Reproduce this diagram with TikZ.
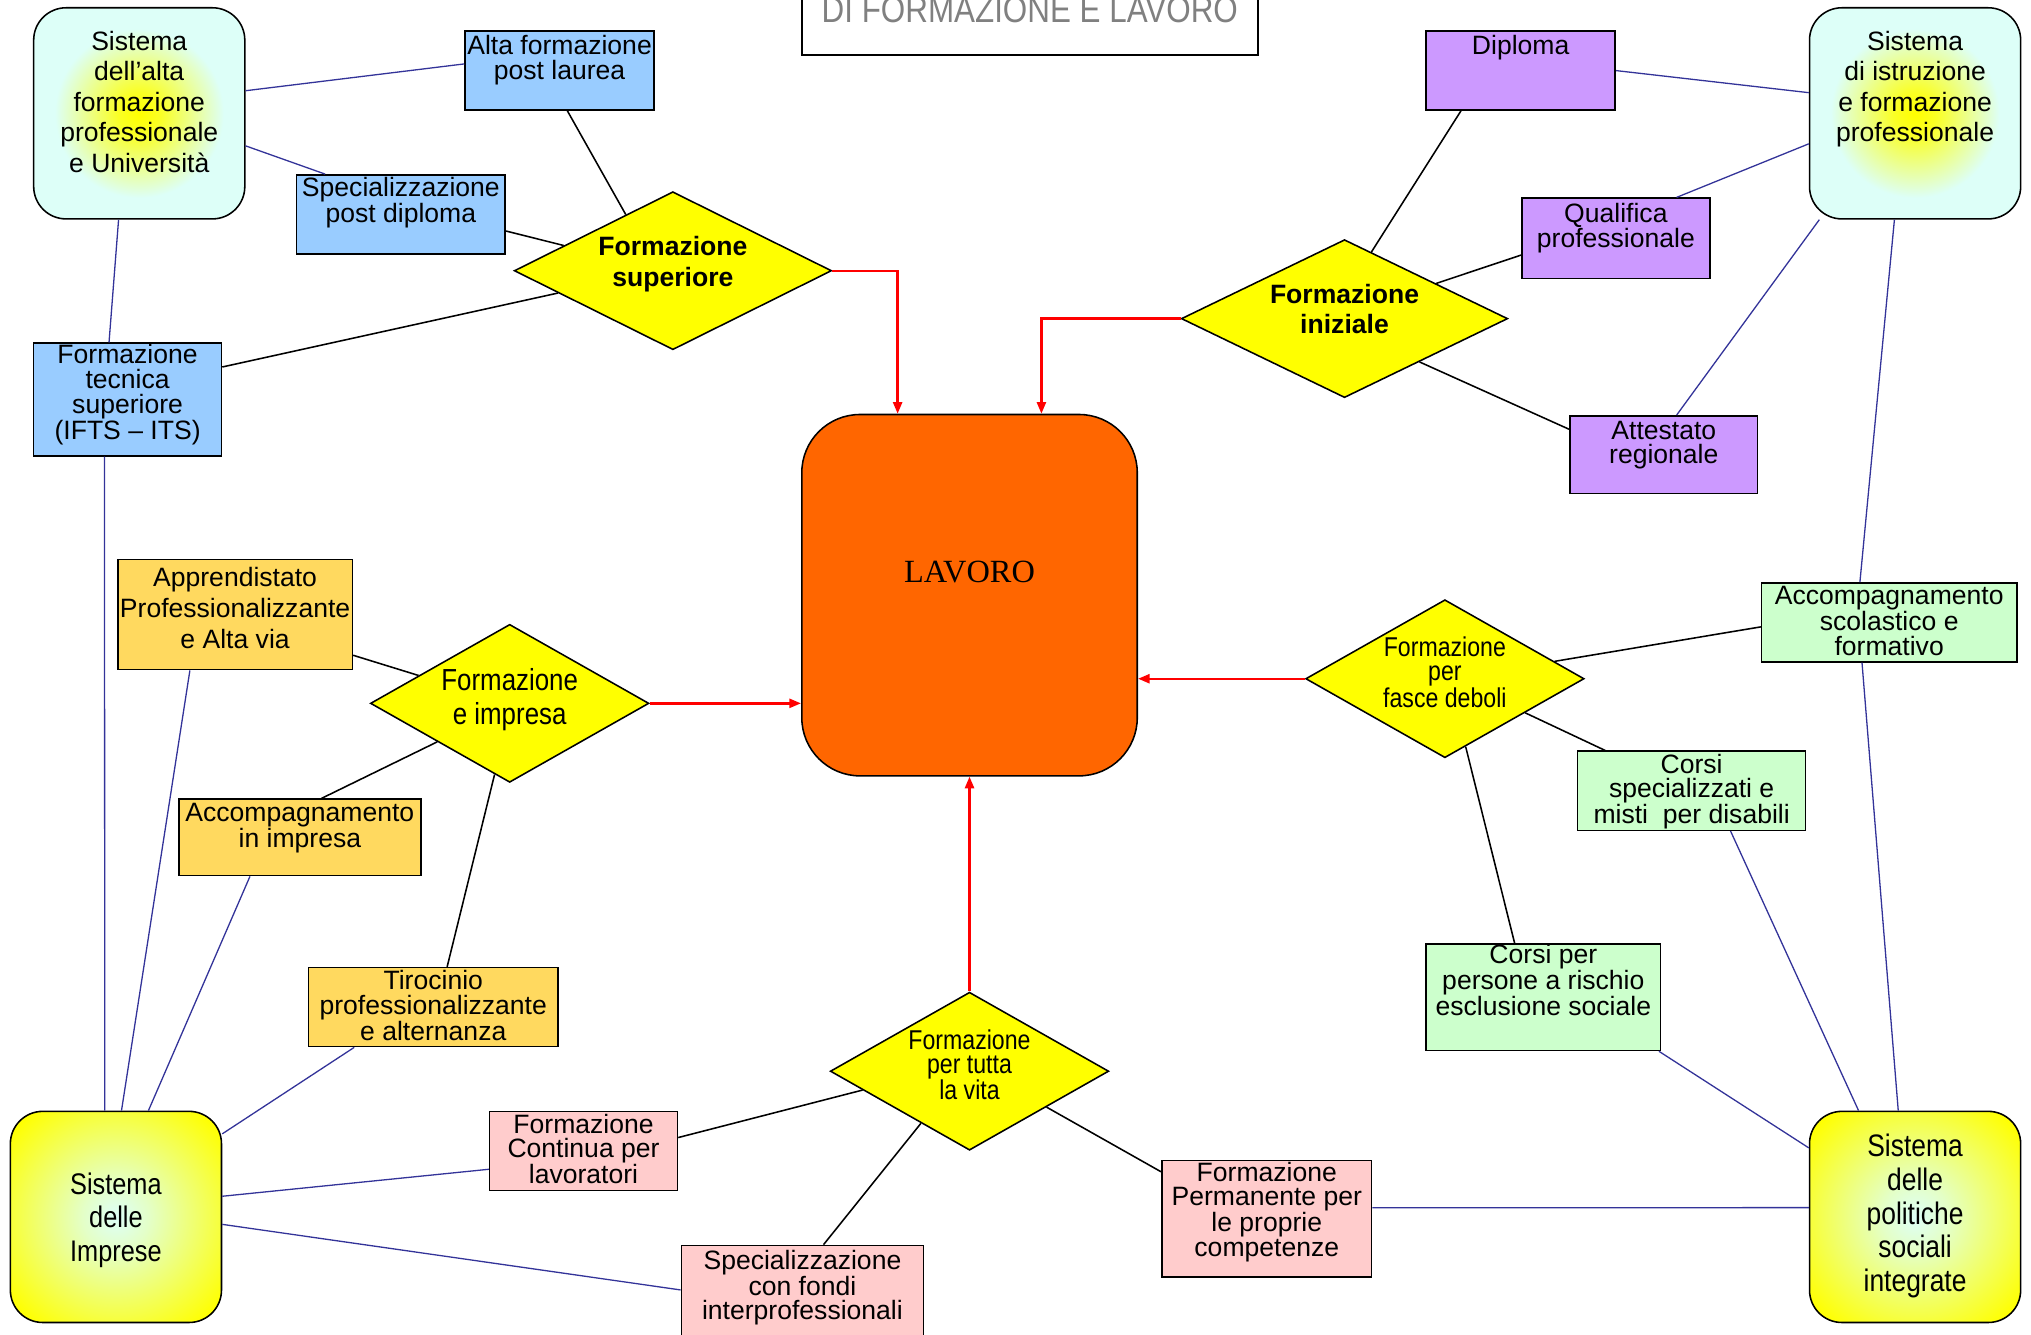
\documentclass[tikz,border=0pt]{standalone}
\usepackage{fontspec}
\setmainfont{Liberation Sans}
\newfontfamily\narrowfont[FakeStretch=0.85]{Liberation Sans}
\newfontfamily\seriffont{Liberation Serif}
\usetikzlibrary{shapes.geometric,arrows.meta}

\definecolor{bluebox}{HTML}{99CCFF}
\definecolor{purplebox}{HTML}{CC99FF}
\definecolor{goldbox}{HTML}{FFD95F}
\definecolor{pinkbox}{HTML}{FFCCCC}
\definecolor{greenbox}{HTML}{CCFFCC}
\definecolor{lavorofill}{HTML}{FF6600}
\definecolor{linkblue}{HTML}{333399}
\definecolor{glowcyan}{HTML}{DDFFF8}
\definecolor{rombofill}{HTML}{FFFF00}

\pgfdeclareradialshading{topglow}{\pgfpoint{0bp}{0bp}}{color(0bp)=(rombofill);
  color(5bp)=(rombofill!85!glowcyan); color(20bp)=(glowcyan); color(50bp)=(glowcyan)}
\pgfdeclareradialshading{bottomglow}{\pgfpoint{0bp}{0bp}}{color(0bp)=(glowcyan);
  color(8bp)=(glowcyan!80!rombofill); color(32bp)=(rombofill); color(50bp)=(rombofill)}

\tikzset{
  base/.style={draw, line width=1.2pt, inner sep=0pt, align=center},
  dims/.style 2 args={minimum width=#1, minimum height=#2},
  txt/.style 2 args={text height=#1, text depth=#2},
  rect/.style={base, rectangle, font=\fontsize{20.5}{19}\selectfont},
  blu/.style={rect, fill=bluebox},
  viola/.style={rect, fill=purplebox},
  oro/.style={rect, fill=goldbox},
  rosa/.style={rect, fill=pinkbox},
  verde/.style={rect, fill=greenbox},
  rombo/.style={base, diamond, aspect=1.8, fill=rombofill},
  sistema/.style={base, rounded corners=25pt, dims={163pt}{163pt}},
  glowtop/.style={shading=topglow},
  glowbottom/.style={shading=bottomglow},
  titolo/.style={draw, line width=1.2pt, inner sep=0pt, text=gray,
    font=\narrowfont\fontsize{28.5}{28.5}\selectfont},
  link/.style={linkblue, line width=1pt},
  tie/.style={black, line width=1.2pt},
  flow/.style={red, line width=1.8pt, ->}
}

\begin{document}
\begin{tikzpicture}[x=1pt, y=-1pt, >={Triangle[length=9pt,width=7pt]}]
  \useasboundingbox[fill=white] (0,0) rectangle (1568,1030);

  \node[titolo, minimum width=352pt, txt={60pt}{25pt}, anchor=south]
    (Titolo) at (795,43) {DI FORMAZIONE E LAVORO};

  \node[base, rounded corners=45pt, fill=lavorofill, dims={259pt}{279pt}, txt={14.5pt}{33.5pt},
    font=\seriffont\fontsize{25}{25}\selectfont] (Lavoro) at (748.5,459.5) {LAVORO};

  \node[sistema, glowtop, txt={96pt}{5pt}, font=\fontsize{20.5}{23.5}\selectfont]
    (SysAlta) at (107.5,87.5) {Sistema\\dell’alta\\formazione\\professionale\\e Università};
  \node[sistema, glowtop, txt={49pt}{5pt}, font=\fontsize{20.5}{23.5}\selectfont]
    (SysIstr) at (1478.5,87.5) {Sistema\\di istruzione\\e formazione\\professionale};
  \node[sistema, glowbottom, txt={74pt}{5pt}, font=\narrowfont\fontsize{23}{26}\selectfont]
    (SysImp) at (89.5,939.5) {Sistema\\delle\\Imprese};
  \node[sistema, glowbottom, txt={120pt}{5pt}, font=\narrowfont\fontsize{24}{26}\selectfont]
    (SysPol) at (1478.5,939.5) {Sistema\\delle\\politiche\\sociali\\integrate};

  \node[rombo, dims={245pt}{122pt}, txt={29pt}{5pt}, font=\bfseries\fontsize{20.5}{24}\selectfont]
    (FormSup) at (519.5,209) {Formazione\\superiore};
  \node[rombo, dims={252pt}{122pt}, txt={28pt}{5pt}, font=\bfseries\fontsize{20.5}{23.5}\selectfont]
    (FormIniz) at (1038,246) {Formazione\\iniziale};
  \node[rombo, dims={215pt}{122pt}, txt={37pt}{5pt}, font=\narrowfont\fontsize{23.5}{26}\selectfont]
    (FormImp) at (393.5,543) {Formazione\\e impresa};
  \node[rombo, dims={215pt}{122pt}, txt={49pt}{5pt}, font=\narrowfont\fontsize{21}{18.5}\selectfont]
    (FormTutta) at (748.5,827) {Formazione\\per tutta\\la vita};
  \node[rombo, dims={215pt}{122pt}, txt={49pt}{5pt}, font=\narrowfont\fontsize{21}{18.5}\selectfont]
    (FormDeb) at (1115.5,524) {Formazione\\per\\fasce deboli};

  \node[blu, dims={146pt}{61pt}, txt={18pt}{5pt}] (AltaForm) at (432,54.5) {Alta formazione\\post laurea};
  \node[blu, dims={161pt}{61pt}, txt={18pt}{5pt}] (SpecPost) at (309.5,165.5) {Specializzazione\\post diploma};
  \node[blu, dims={145pt}{87pt}, txt={66pt}{5pt}] (FTS) at (98.5,308.5) {Formazione\\tecnica\\superiore\\(IFTS – ITS)};

  \node[viola, dims={146pt}{61pt}, txt={5pt}{30pt}] (Diploma) at (1174,54.5) {Diploma};
  \node[viola, dims={145pt}{62pt}, txt={19pt}{5pt}] (Qualifica) at (1247.5,184) {Qualifica\\professionale};
  \node[viola, dims={145pt}{60pt}, txt={19pt}{5pt}] (Attestato) at (1284.5,351) {Attestato\\regionale};

  \node[oro, dims={181pt}{85pt}, txt={58pt}{5pt}, font=\fontsize{20.5}{24}\selectfont]
    (Appr) at (181.5,474.5) {Apprendistato\\Professionalizzante\\e Alta via};
  \node[oro, dims={187pt}{59pt}, txt={20pt}{5pt}] (AccImp) at (231.5,646.5) {Accompagnamento\\in impresa};
  \node[oro, dims={193pt}{61pt}, txt={56pt}{5pt}] (Tiroc) at (334.5,777.5) {Tirocinio\\professionalizzante\\e alternanza};

  \node[rosa, dims={145pt}{61pt}, txt={56pt}{5pt}] (FormCont) at (450.5,888.5) {Formazione\\Continua per\\lavoratori};
  \node[rosa, dims={187pt}{72pt}, txt={48pt}{5pt}] (SpecFondi) at (619.5,997.5) {Specializzazione\\con fondi\\interprofessionali};
  \node[rosa, dims={162pt}{90pt}, txt={63pt}{5pt}] (FormPerm) at (978,941) {Formazione\\Permanente per\\le proprie\\competenze};

  \node[verde, dims={181pt}{82pt}, txt={33pt}{5pt}, font=\fontsize{20.5}{18.5}\selectfont]
    (CorsiPers) at (1191.5,770) {Corsi per\\persone a rischio\\esclusione sociale};
  \node[verde, dims={176pt}{61pt}, txt={56pt}{5pt}] (CorsiSpec) at (1306,610.5) {Corsi\\specializzati e\\misti\ \ per disabili};
  \node[verde, dims={197pt}{61pt}, txt={56pt}{5pt}] (AccScol) at (1458.5,480.5) {Accompagnamento\\scolastico e\\formativo};

  \foreach \a/\b in {SysAlta.12/AltaForm.176, SysAlta.-17/SpecPost.152, SysAlta.259/FTS.108,
      FTS.248/SysImp.96, Appr.231/SysImp.87, AccImp.218/SysImp.73, Tiroc.207/SysImp.38,
      SysImp.11/FormCont.191, SysImp.-4/SpecFondi.179, FormPerm.6/SysPol.175,
      CorsiPers.-25/SysPol.147, CorsiSpec.-46/SysPol.118, AccScol.236/SysPol.99,
      SysIstr.259/AccScol.126, SysIstr.169/Diploma.0, SysIstr.196/Qualifica.34,
      SysIstr.228/Attestato.72}
    \draw[link] (\a) -- (\b);

  \foreach \a/\b in {AltaForm.281/FormSup.130, SpecPost.-9/FormSup.167, FTS.19/FormSup.191,
      Appr.-19/FormImp.163, AccImp.61/FormImp.208, Tiroc.71/FormImp.258,
      FormCont.8/FormTutta.190, SpecFondi.66/FormTutta.227, FormPerm.156/FormTutta.-25,
      AccScol.182/FormDeb.9, CorsiSpec.155/FormDeb.-23, CorsiPers.118/FormDeb.-73,
      Diploma.214/FormIniz.68, Qualifica.190/FormIniz.21, Attestato.165/FormIniz.-30}
    \draw[tie] (\a) -- (\b);

  \draw[flow] (FormSup.east) -| ([xshift=-55.5pt]Lavoro.north);
  \draw[flow] (FormIniz.west) -| ([xshift=55.5pt]Lavoro.north);
  \draw[flow] (FormImp.east) -- (FormImp.east -| Lavoro.west);
  \draw[flow] (FormDeb.west) -- (FormDeb.west -| Lavoro.east);
  \draw[flow] (FormTutta.north) -- (Lavoro.south);
\end{tikzpicture}
\end{document}
